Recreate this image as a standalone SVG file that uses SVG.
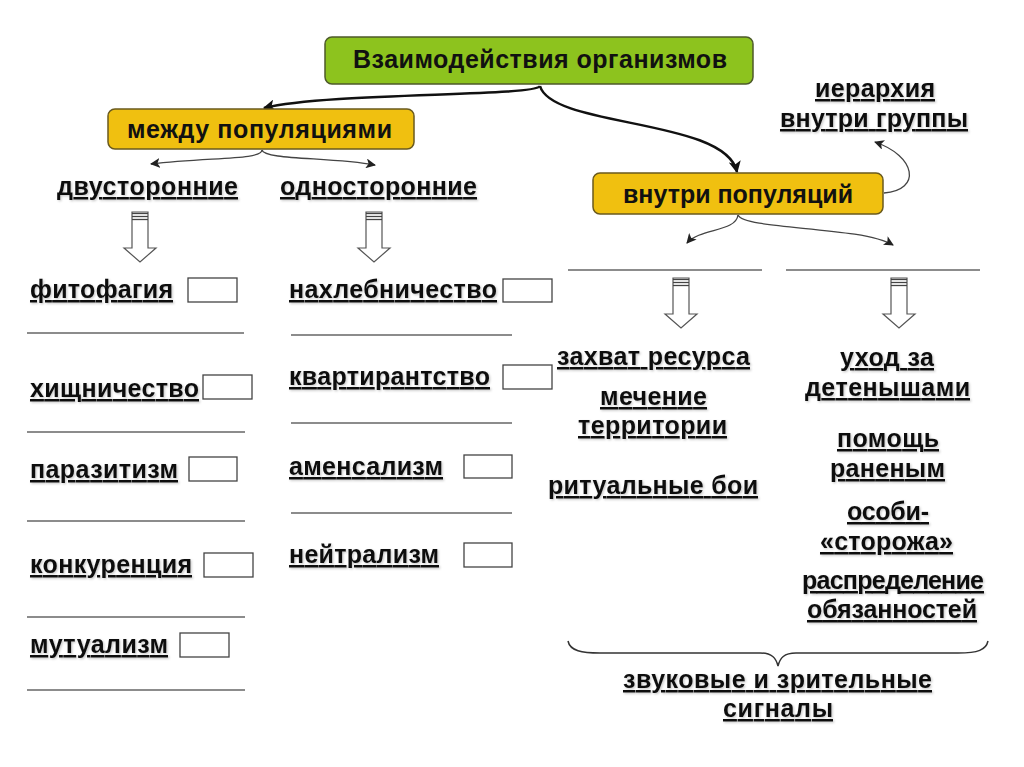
<svg xmlns="http://www.w3.org/2000/svg" width="1024" height="767" viewBox="0 0 1024 767">
<style>
.t{font-family:"Liberation Sans",Arial,sans-serif;font-weight:bold;font-size:25px;fill:#111;text-decoration:underline;filter:url(#sh)}
.h{font-family:"Liberation Sans",Arial,sans-serif;font-weight:bold;font-size:25px;fill:#111}
.hy{font-family:"Liberation Sans",Arial,sans-serif;font-weight:bold;font-size:25px;fill:#111}
.green{fill:#8dc31e;stroke:#4d5a2a;stroke-width:1.5}
.yellow{fill:#f0c010;stroke:#6a5a1e;stroke-width:1.5}
.box{fill:#fff;stroke:#444;stroke-width:1.3}
.rule{stroke:#666;stroke-width:1.6}
.barrow{fill:#fff;stroke:#555;stroke-width:1.2}
.band{stroke:#444;stroke-width:1.3}
.main{fill:none;stroke:#111;stroke-width:2.5}
.thin{fill:none;stroke:#444;stroke-width:1.3}
</style>
<defs>
<filter id="sh" x="-5%" y="-20%" width="110%" height="150%">
<feDropShadow dx="1.2" dy="1.2" stdDeviation="0.8" flood-color="#000" flood-opacity="0.22"/>
</filter>
<marker id="ah" viewBox="0 0 10 10" refX="9" refY="5" markerWidth="12" markerHeight="12" markerUnits="userSpaceOnUse" orient="auto">
<path d="M0,0 L10,5 L0,10 L2.5,5 z" fill="#111"/>
</marker>
<marker id="as" viewBox="0 0 10 10" refX="9" refY="5" markerWidth="10" markerHeight="10" markerUnits="userSpaceOnUse" orient="auto">
<path d="M0,0 L10,5 L0,10 L2.5,5 z" fill="#222"/>
</marker>
<g id="blockArrow">
<polygon class="barrow" points="-8,0 8,0 8,36 16,36 0,50 -16,36 -8,36"/>
<line class="band" x1="-8" y1="1.5" x2="8" y2="1.5"/>
<line class="band" x1="-8" y1="4.5" x2="8" y2="4.5"/>
<line class="band" x1="-8" y1="7.5" x2="8" y2="7.5"/>
</g>
</defs>
<rect width="1024" height="767" fill="#fff"/>

<g id="connectors">
<path class="main" d="M540,86 C534,97 330,92 264,108" marker-end="url(#ah)"/>
<path class="main" d="M540,86 C552,128 726,118 737,172" marker-end="url(#ah)"/>
<path class="thin" d="M884,193 C922,190 916,156 875,142" marker-end="url(#as)"/>
<path class="thin" d="M262,150 C262,160 210,157 151,164" marker-end="url(#as)"/>
<path class="thin" d="M262,150 C264,160 330,157 375,165" marker-end="url(#as)"/>
<path class="thin" d="M738,215 C736,232 700,228 687,243" marker-end="url(#as)"/>
<path class="thin" d="M738,215 C744,230 860,226 893,245" marker-end="url(#as)"/>
<use href="#blockArrow" x="140" y="212"/>
<use href="#blockArrow" x="374" y="212"/>
<use href="#blockArrow" x="681" y="278"/>
<use href="#blockArrow" x="899" y="278"/>
<path d="M568,641 C570,651 582,653 600,653 L760,653 C772,653 776,658 778,666 C780,658 784,653 796,653 L958,653 C978,653 986,650 988,641" fill="none" stroke="#333" stroke-width="1.5"/>
</g>

<g id="root">
<rect class="green" x="325" y="37" width="428" height="47" rx="7"/>
<text class="h" x="353" y="68" textLength="374" lengthAdjust="spacing">Взаимодействия организмов</text>
</g>
<g id="between">
<rect class="yellow" x="108" y="109" width="306" height="40" rx="7"/>
<text class="hy" x="127" y="138" textLength="265" lengthAdjust="spacing">между популяциями</text>
</g>
<g id="within">
<rect class="yellow" x="593" y="173" width="290" height="41" rx="7"/>
<text class="hy" x="623" y="203" textLength="230" lengthAdjust="spacing">внутри популяций</text>
</g>
<g id="hierarchy">
<text class="t" x="815" y="97" textLength="120" lengthAdjust="spacing">иерархия</text>
<text class="t" x="780" y="127" textLength="188" lengthAdjust="spacing">внутри группы</text>
</g>

<g id="bilateral">
<text class="t" x="57" y="195" textLength="181" lengthAdjust="spacing">двусторонние</text>
</g>
<g id="unilateral">
<text class="t" x="280" y="195" textLength="197" lengthAdjust="spacing">односторонние</text>
</g>

<g id="left-items">
<text class="t" x="30" y="298" textLength="143" lengthAdjust="spacing">фитофагия</text>
<rect class="box" x="188" y="278" width="49" height="24"/>
<line class="rule" x1="27" y1="333" x2="244" y2="333"/>
<text class="t" x="30" y="397" textLength="169" lengthAdjust="spacing">хищничество</text>
<rect class="box" x="203" y="375" width="49" height="24"/>
<line class="rule" x1="27" y1="432" x2="245" y2="432"/>
<text class="t" x="30" y="478" textLength="148" lengthAdjust="spacing">паразитизм</text>
<rect class="box" x="189" y="457" width="48" height="24"/>
<line class="rule" x1="27" y1="521" x2="245" y2="521"/>
<text class="t" x="30" y="573" textLength="162" lengthAdjust="spacing">конкуренция</text>
<rect class="box" x="204" y="553" width="49" height="24"/>
<line class="rule" x1="27" y1="617" x2="245" y2="617"/>
<text class="t" x="30" y="653" textLength="138" lengthAdjust="spacing">мутуализм</text>
<rect class="box" x="180" y="633" width="49" height="24"/>
<line class="rule" x1="27" y1="690" x2="245" y2="690"/>
</g>

<g id="middle-items">
<text class="t" x="289" y="298" textLength="208" lengthAdjust="spacing">нахлебничество</text>
<rect class="box" x="503" y="279" width="49" height="23"/>
<line class="rule" x1="291" y1="335" x2="512" y2="335"/>
<text class="t" x="289" y="385" textLength="201" lengthAdjust="spacing">квартирантство</text>
<rect class="box" x="503" y="365" width="49" height="24"/>
<line class="rule" x1="291" y1="423" x2="512" y2="423"/>
<text class="t" x="289" y="475" textLength="154" lengthAdjust="spacing">аменсализм</text>
<rect class="box" x="464" y="455" width="48" height="23"/>
<line class="rule" x1="291" y1="513" x2="512" y2="513"/>
<text class="t" x="289" y="563" textLength="150" lengthAdjust="spacing">нейтрализм</text>
<rect class="box" x="464" y="543" width="48" height="24"/>
</g>

<g id="right-lines">
<line class="rule" x1="568" y1="270" x2="762" y2="270"/>
<line class="rule" x1="786" y1="270" x2="980" y2="270"/>
</g>

<g id="conflict-items">
<text class="t" x="557" y="365" textLength="193" lengthAdjust="spacing">захват ресурса</text>
<text class="t" x="600" y="405" textLength="107" lengthAdjust="spacing">мечение</text>
<text class="t" x="578" y="434" textLength="149" lengthAdjust="spacing">территории</text>
<text class="t" x="548" y="494" textLength="210" lengthAdjust="spacing">ритуальные бои</text>
</g>

<g id="care-items">
<text class="t" x="840" y="366" textLength="94" lengthAdjust="spacing">уход за</text>
<text class="t" x="805" y="396" textLength="165" lengthAdjust="spacing">детенышами</text>
<text class="t" x="837" y="447" textLength="102" lengthAdjust="spacing">помощь</text>
<text class="t" x="830" y="477" textLength="115" lengthAdjust="spacing">раненым</text>
<text class="t" x="847" y="520" textLength="82" lengthAdjust="spacing">особи-</text>
<text class="t" x="820" y="550" textLength="133" lengthAdjust="spacing">«сторожа»</text>
<text class="t" x="802" y="589" textLength="182" lengthAdjust="spacing">распределение</text>
<text class="t" x="807" y="618" textLength="170" lengthAdjust="spacing">обязанностей</text>
</g>

<g id="signals">
<text class="t" x="623" y="688" textLength="309" lengthAdjust="spacing">звуковые и зрительные</text>
<text class="t" x="723" y="717" textLength="110" lengthAdjust="spacing">сигналы</text>
</g>
</svg>
